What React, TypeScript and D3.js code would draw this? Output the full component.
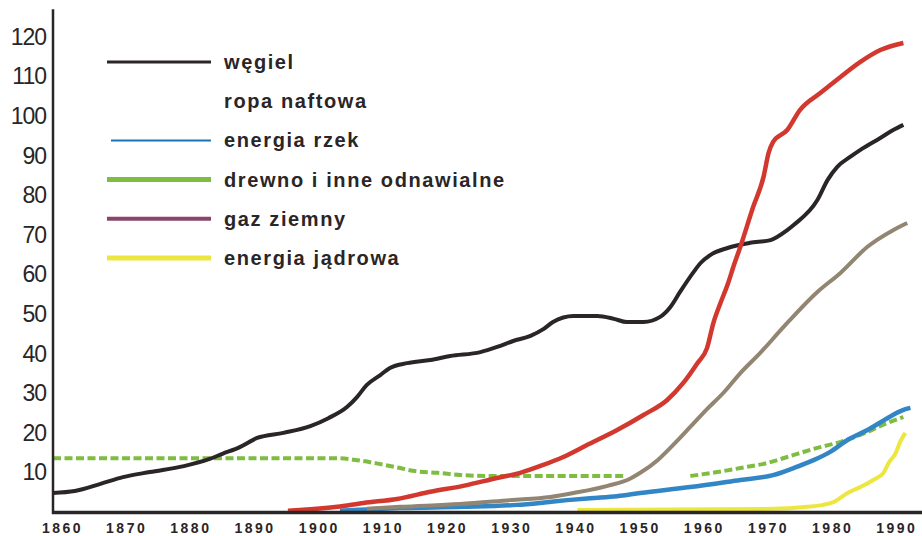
import React, { useRef, useEffect } from 'react'
import { select, scaleLinear, line, curveMonotoneX, axisBottom, axisLeft } from 'd3'

// tick labels
const yearTicks = [1860, 1870, 1880, 1890, 1900, 1910, 1920, 1930, 1940, 1950, 1960, 1970, 1980, 1990]
const valueTicks = [10, 20, 30, 40, 50, 60, 70, 80, 90, 100, 110, 120]

// series as [year, value]
const coal = [
  [1858.6, 4.8], [1862, 5.3], [1866, 7.1], [1869.5, 8.8], [1873.7, 10.1], [1879, 11.6], [1883, 13.4],
  [1885, 14.7], [1887.7, 16.4], [1890.4, 18.7], [1894.5, 20.0], [1898.7, 21.7], [1901.5, 23.7],
  [1904.4, 26.5], [1906, 29.1], [1907.5, 32.1], [1909.6, 34.6], [1911.1, 36.4], [1913.8, 37.6],
  [1917.4, 38.4], [1920.5, 39.4], [1925.2, 40.4], [1927.8, 41.7], [1930.3, 43.2], [1933, 44.5],
  [1935, 46.2], [1936.5, 48], [1939.7, 49.5], [1943.4, 49.5], [1946, 48.8], [1948, 48], [1950.6, 48],
  [1953.2, 49.3], [1954.8, 51.8], [1956.3, 55.6], [1958.4, 60.6], [1959.5, 62.9], [1961, 64.9],
  [1963.7, 66.7], [1967.2, 68], [1970.4, 68.7], [1973, 71.2], [1974, 72.5], [1977.7, 78.8],
  [1979.3, 83.9], [1980.8, 87.2], [1982.8, 89.7], [1984.4, 91.5], [1987.5, 94.5], [1989.5, 96.5],
  [1991.1, 97.8],
]
const oil = [
  [1895.2, 0.3], [1902.9, 1.3], [1907, 2.3], [1912.2, 3.3], [1917.4, 5.1], [1922.5, 6.6], [1927.8, 8.6],
  [1931.4, 9.9], [1935, 11.9], [1938.1, 13.9], [1941.8, 16.9], [1946.5, 20.7], [1950.6, 24.5],
  [1954.3, 28.3], [1956.8, 32.6], [1959, 37.6], [1960.5, 41.4], [1961.5, 47.8], [1962.6, 52.8],
  [1963.7, 57.4], [1964.6, 61.9], [1965.7, 67], [1967.7, 77.1], [1969.3, 84.6], [1970.1, 90.7],
  [1970.8, 93.5], [1973, 96.5], [1975, 101.6], [1978.2, 105.9], [1981.3, 109.9], [1984.4, 113.7],
  [1987.5, 116.7], [1991.1, 118.5],
]
const hydro = [
  [1903.3, 0.3], [1912.7, 1.0], [1922.5, 1.3], [1930.9, 1.8], [1934.5, 2.3], [1938.7, 3.0], [1942.3, 3.5],
  [1946.5, 4.0], [1950.1, 4.8], [1957.9, 6.3], [1965.7, 8.1], [1970.8, 9.3], [1974, 11.1], [1977.1, 13.1],
  [1979.7, 15.2], [1982.4, 18.2], [1985.5, 20.7], [1988.6, 23.7], [1991.1, 25.8], [1992.2, 26.3],
]
const wood = [
  [1858.6, 13.6], [1903, 13.6], [1906, 13.1], [1909.6, 12.1], [1912.7, 11.1], [1914.7, 10.4],
  [1918.5, 9.9], [1922.5, 9.3], [1926.3, 9.1], [1947.5, 9.1], [1952, null],
  [1957.9, 9.1], [1962.1, 10.1], [1965.7, 11.1], [1969.9, 12.4], [1973, 13.9], [1977.7, 16.2],
  [1981.3, 17.7], [1985.5, 20.2], [1988.6, 22.5], [1991.1, 24.0],
]
const gas = [
  [1907.5, 0.8], [1912.7, 1.3], [1922, 2.0], [1929.8, 3.0], [1936.1, 3.8], [1939.7, 4.8], [1945, 6.6],
  [1948.5, 8.4], [1950.1, 9.9], [1952.8, 13.1], [1955.2, 16.9], [1957.9, 21.5], [1960.5, 26],
  [1963, 30], [1965.7, 35.1], [1968.8, 40.2], [1972.4, 46.7], [1977.7, 55.6], [1981.3, 60.4],
  [1985.5, 67], [1989.5, 71.2], [1991.7, 73],
]
const nuclear = [
  [1940.3, 0.5], [1970.8, 0.8], [1976.1, 1.3], [1978.6, 1.8], [1980.2, 2.5], [1982.4, 4.8],
  [1984.4, 6.3], [1986.4, 8.1], [1988, 9.9], [1988.8, 12.4], [1989.9, 14.9], [1990.6, 17.7],
  [1991.4, 20.0],
]

const legendNames = ['węgiel', 'ropa naftowa', 'energia rzek', 'drewno i inne odnawialne', 'gaz ziemny', 'energia jądrowa']

const App = () => {
  const svgRef = useRef(null)
  const width = 922
  const height = 536
  const x = scaleLinear().domain([1858.6, 1994]).range([53, 922])
  const y = scaleLinear().domain([0, 120]).range([512, 37])

  useEffect(() => {
    const svg = select(svgRef.current)
    svg.selectAll('*').remove()
    svg.attr('viewBox', [0, 0, width, height])

    const ink = '#2a2526'
    const font = '"Liberation Sans", Arial, sans-serif'

    const path = line()
      .defined(d => d[1] != null)
      .x(d => x(d[0]))
      .y(d => y(d[1]))
      .curve(curveMonotoneX)

    const lines = [
      { data: wood, color: '#7fbd42', w: 4, dash: '8,3.5' },
      { data: nuclear, color: '#ede63f', w: 4 },
      { data: hydro, color: '#3286c6', w: 4.5 },
      { data: gas, color: '#928571', w: 4 },
      { data: coal, color: ink, w: 4 },
      { data: oil, color: '#d2382e', w: 4.5 },
    ]
    lines.forEach(s => {
      svg.append('path')
        .datum(s.data)
        .attr('fill', 'none')
        .attr('stroke', s.color)
        .attr('stroke-width', s.w)
        .attr('stroke-dasharray', s.dash || null)
        .attr('d', path)
    })

    // axes
    svg.append('line')
      .attr('x1', x.range()[0]).attr('x2', x.range()[0])
      .attr('y1', y(127)).attr('y2', y(0) + 2)
      .attr('stroke', ink).attr('stroke-width', 2.5)
    svg.append('line')
      .attr('x1', x.range()[0] - 1).attr('x2', x.range()[1])
      .attr('y1', y(0) + 0.5).attr('y2', y(0) + 0.5)
      .attr('stroke', ink).attr('stroke-width', 3.5)

    svg.append('g')
      .attr('transform', `translate(0,${y(0)})`)
      .call(axisBottom(x).tickValues(yearTicks).tickFormat(d => String(d)).tickSize(0).tickPadding(11))
      .call(g => g.select('.domain').remove())
      .call(g => g.selectAll('text')
        .attr('fill', ink)
        .attr('font-family', font)
        .attr('font-size', 14)
        .attr('font-weight', 'bold')
        .attr('letter-spacing', 2.5))

    svg.append('g')
      .attr('transform', `translate(${x.range()[0]},0)`)
      .call(axisLeft(y).tickValues(valueTicks).tickSize(0).tickPadding(7))
      .call(g => g.select('.domain').remove())
      .call(g => g.selectAll('text')
        .attr('fill', ink)
        .attr('font-family', font)
        .attr('font-size', 23)
        .attr('letter-spacing', -1))

    // legend
    const legendLines = [
      { color: ink, w: 3, x0: 107 },
      null,
      { color: '#1a75b8', w: 2, x0: 111 },
      { color: '#7fbd42', w: 5, x0: 107 },
      { color: '#8b4569', w: 4, x0: 107 },
      { color: '#ede63f', w: 5, x0: 107 },
    ]
    const legendY = scaleLinear().domain([0, 5]).range([64, 260])
    const legend = svg.append('g')
    legendNames.forEach((name, i) => {
      const cy = legendY(i)
      const l = legendLines[i]
      if (l) {
        legend.append('line')
          .attr('x1', l.x0).attr('x2', 211)
          .attr('y1', cy - 2).attr('y2', cy - 2)
          .attr('stroke', l.color).attr('stroke-width', l.w)
      }
      legend.append('text')
        .attr('x', 224)
        .attr('y', cy)
        .attr('dy', '0.25em')
        .attr('fill', ink)
        .attr('font-family', font)
        .attr('font-size', 20)
        .attr('font-weight', 'bold')
        .attr('letter-spacing', 1.6)
        .text(name)
    })
  }, [])

  return (
    <div className="viz-container">
      <svg ref={svgRef} width={width} height={height}
        style={{ position: 'absolute', left: 0, top: 0, background: '#fff' }}></svg>
    </div>
  )
}

export default App
